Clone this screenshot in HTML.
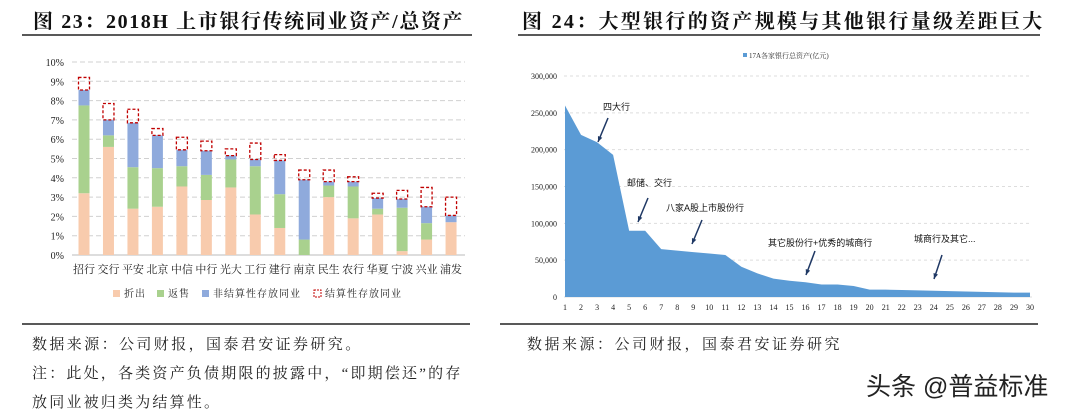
<!DOCTYPE html>
<html><head><meta charset="utf-8"><style>
body{margin:0;width:1080px;height:420px;background:#fff;overflow:hidden;font-family:"Liberation Serif","Noto Serif CJK SC",serif}
svg{position:absolute;left:0;top:0}
</style></head><body>
<svg id="s" width="1080" height="420">
<text x="33" y="28" font-size="20" font-weight="bold" fill="#111" letter-spacing="1.6">图 23：2018H 上市银行传统同业资产/总资产</text>
<line x1="22" y1="35" x2="472" y2="35" stroke="#222" stroke-width="1.5"/>
<text x="522" y="28" font-size="20" font-weight="bold" fill="#111" letter-spacing="2.3">图 24：大型银行的资产规模与其他银行量级差距巨大</text>
<line x1="518" y1="35" x2="1040" y2="35" stroke="#222" stroke-width="1.5"/>
<line x1="22" y1="324" x2="470" y2="324" stroke="#222" stroke-width="1.5"/>
<line x1="500" y1="324" x2="1038" y2="324" stroke="#222" stroke-width="1.5"/>
<text x="32" y="349" font-size="15" fill="#222" letter-spacing="2.4">数据来源：公司财报，国泰君安证券研究。</text>
<text x="32" y="378" font-size="15" fill="#222" letter-spacing="2.2">注：此处，各类资产负债期限的披露中，“即期偿还”的存</text>
<text x="32" y="407" font-size="15" fill="#222" letter-spacing="2.2">放同业被归类为结算性。</text>
<text x="527" y="349" font-size="15" fill="#222" letter-spacing="2.5">数据来源：公司财报，国泰君安证券研究</text>
<text x="866" y="395" font-size="25" fill="#222" font-family="Liberation Sans,Noto Sans CJK SC,sans-serif">头条 @普益标准</text>
<g id="L"></g>
<g id="R"></g>
</svg>
<script>
const banks=["招行","交行","平安","北京","中信","中行","光大","工行","建行","南京","民生","农行","华夏","宁波","兴业","浦发"];
const chaichu=[3.2,5.6,2.4,2.5,3.55,2.85,3.5,2.1,1.4,0,3.0,1.9,2.1,0.2,0.8,1.7];
const fanshou=[4.55,0.6,2.15,2.0,1.05,1.3,1.45,2.5,1.75,0.8,0.6,1.65,0.3,2.25,0.85,0];
const feijiesuan=[0.8,0.8,2.3,1.7,0.85,1.25,0.2,0.35,1.75,3.1,0.2,0.25,0.55,0.45,0.85,0.35];
const jiesuan=[0.65,0.85,0.7,0.35,0.65,0.5,0.35,0.85,0.3,0.5,0.6,0.25,0.25,0.45,1.0,0.95];
const leftTicks=[0,1,2,3,4,5,6,7,8,9,10];
const idx=[1,2,3,4,5,6,7,8,9,10,11,12,13,14,15,16,17,18,19,20,21,22,23,24,25,26,27,28,29,30];
const assets=[260000,220000,210000,193000,90000,90000,65000,63000,61000,59000,57000,41000,32000,25000,22000,20000,17000,17000,15000,10000,10000,9500,9000,8500,8000,7500,7000,6500,6000,6000];
const rightTicks=[0,50000,100000,150000,200000,250000,300000];
const NS="http://www.w3.org/2000/svg";
function mk(p,t,a,txt){const e=document.createElementNS(NS,t);for(const k in a)e.setAttribute(k,a[k]);if(txt!=null)e.textContent=txt;p.appendChild(e);return e;}
// left
const L=document.getElementById('L');
const ly=v=>255-v*19.3, lx=i=>84+i*24.47;
leftTicks.forEach(t=>{
 const g=mk(L,'line',{x1:72,x2:465,y1:ly(t),y2:ly(t),stroke:t?'#d0d0d0':'#bbb','stroke-dasharray':t?'5,3':''});
 
 
 const tx=mk(L,'text',{x:64,y:ly(t)+4,'font-size':10,'text-anchor':'end',fill:'#222'},t+'%');
 
 
});
const cols=['#f8cbad','#a9d18e','#8faadc'];
banks.forEach((b,i)=>{
 let base=0;
 [chaichu,fanshou,feijiesuan].forEach((arr,k)=>{
  const v=arr[i];
  const r=mk(L,'rect',{x:lx(i)-5.5,width:11,y:ly(base+v),height:v*19.3,fill:cols[k]});
  
  
  base+=v;
 });
 const d=mk(L,'rect',{x:lx(i)-5.5,width:11,y:ly(base+jiesuan[i]),height:jiesuan[i]*19.3,fill:'none',stroke:'#c00000','stroke-width':1.3,'stroke-dasharray':'3,2'});
 
 
 const t=mk(L,'text',{x:lx(i),y:273,'font-size':11,'text-anchor':'middle',fill:'#222'},b);
 
 
});
const leg=[['折出','#f8cbad',113],['返售','#a9d18e',157],['非结算性存放同业','#8faadc',202],['结算性存放同业','none',314]];
leg.forEach(([n,c,x])=>{
 const r=mk(L,'rect',{x:x,y:290,width:7,height:7,fill:c,stroke:c=='none'?'#c00000':'none','stroke-dasharray':'2,1'});
 
 
 const t=mk(L,'text',{x:x+11,y:297,'font-size':10,fill:'#222','letter-spacing':1},n);
 
 
});
// right
const R=document.getElementById('R');
const ry=v=>297-v/300000*221, rx=i=>565+(i-1)*(465/29);
rightTicks.forEach(t=>{
 const g=mk(R,'line',{x1:564,x2:1032,y1:ry(t),y2:ry(t),stroke:'#ddd','stroke-dasharray':t?'3,3':''});
 
 
 const tx=mk(R,'text',{x:557,y:ry(t)+3,'font-size':8,'text-anchor':'end',fill:'#222'},t.toLocaleString('en-US'));
 
 
});
let d='M'+rx(1)+','+ry(0);
idx.forEach((n,i)=>{d+=' L'+rx(n)+','+ry(assets[i]);});
d+=' L'+rx(30)+','+ry(0)+' Z';
const a=mk(R,'path',{d:d,fill:'#5b9bd5'});


idx.forEach(n=>{
 const t=mk(R,'text',{x:rx(n),y:310,'font-size':8,'text-anchor':'middle',fill:'#222'},n);
 
 
});
const lg=mk(R,'rect',{x:743,y:53,width:4,height:4,fill:'#5b9bd5'});


const lt=mk(R,'text',{x:749,y:58,'font-size':7,fill:'#333'},'17A各家银行总资产(亿元)');


const notes=[['四大行',603,110,608,118,598,142],['邮储、交行',627,186,648,198,638,222],['八家A股上市股份行',666,211,702,220,692,244],['其它股份行+优秀的城商行',768,246,815,251,806,275],['城商行及其它...',914,242,942,255,934,279]];
notes.forEach(([t,x,y,x1,y1,x2,y2])=>{
 const e=mk(R,'text',{x:x,y:y,'font-size':9,fill:'#111','font-family':'Liberation Sans,Noto Sans CJK SC,sans-serif'},t);
 
 
 const l=mk(R,'line',{x1:x1,y1:y1,x2:x2,y2:y2,stroke:'#1f3864','stroke-width':1.5});
 
 
 const ang=Math.atan2(y2-y1,x2-x1);
 const p=`${x2},${y2} ${x2-6*Math.cos(ang-0.4)},${y2-6*Math.sin(ang-0.4)} ${x2-6*Math.cos(ang+0.4)},${y2-6*Math.sin(ang+0.4)}`;
 const h=mk(R,'polygon',{points:p,fill:'#1f3864'});
 
 
});
</script>
</body></html>
